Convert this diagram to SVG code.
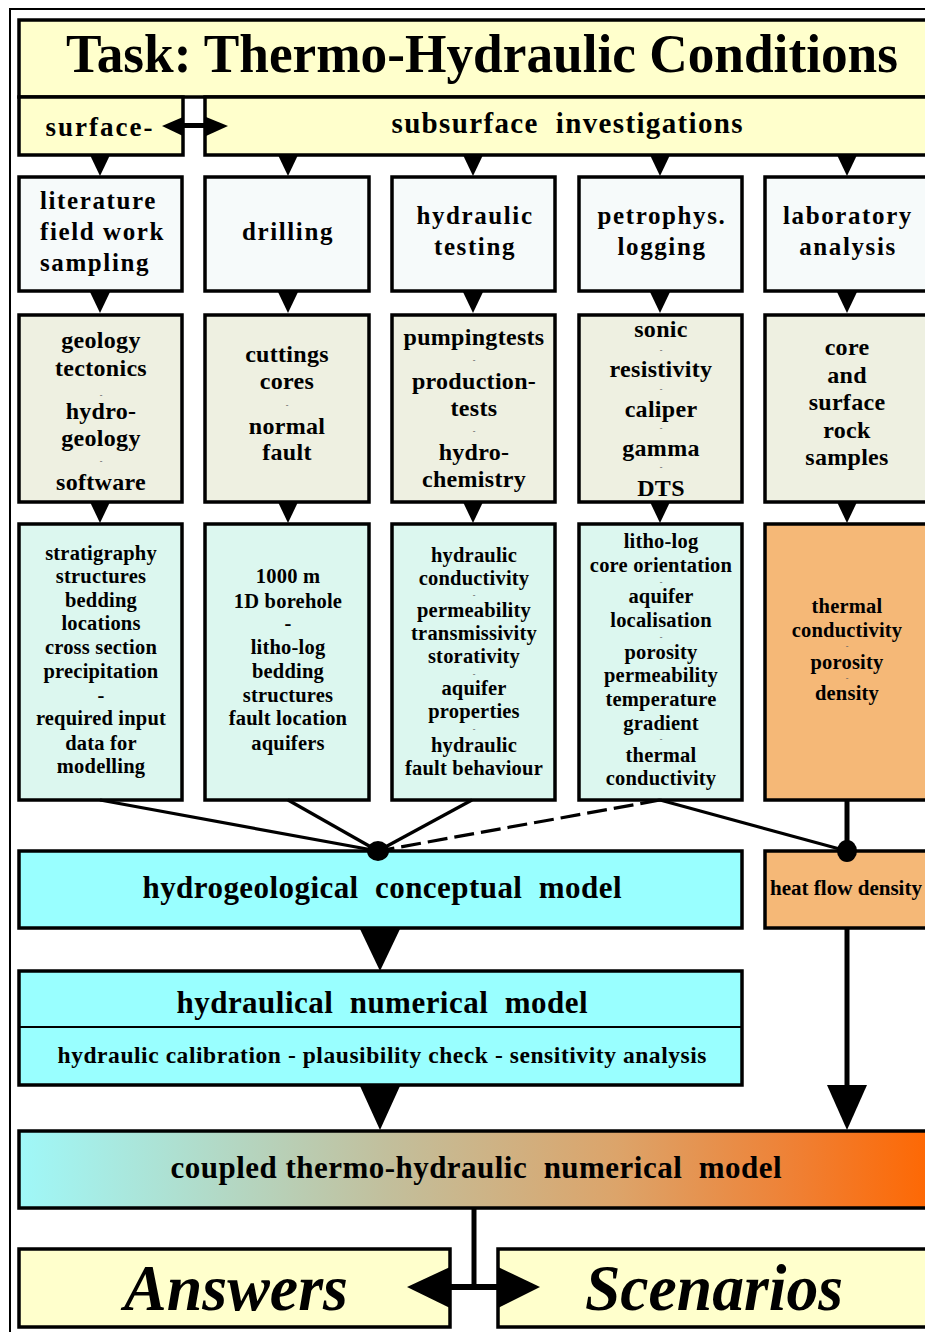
<svg xmlns="http://www.w3.org/2000/svg" width="925" height="1332" viewBox="0 0 925 1332">
<style>
text{font-family:"Liberation Serif","Times New Roman",serif;font-weight:bold;fill:#000;text-anchor:middle}
.box{stroke:#000;stroke-width:3.5}
.yel{fill:#ffffcc}
.r1{fill:#f6fafa}
.r2{fill:#eef0e1}
.r3{fill:#dcf7ef}
.org{fill:#f5b877}
.cy{fill:#99ffff}
.t1{font-size:25px;letter-spacing:1.6px}
.t2{font-size:24px;letter-spacing:0.3px}
.t3{font-size:20.5px;letter-spacing:0.2px}
.sd{font-size:8px;fill:#666}
.ln{stroke:#000;stroke-width:3.2;fill:none}
.big{font-size:31px}
.it{font-style:italic;font-size:66px}
</style>
<defs>
<path id="tri" d="M-10,0 L10,0 L0,21 Z" fill="#000"/>
<linearGradient id="grad" x1="19" y1="0" x2="939" y2="0" gradientUnits="userSpaceOnUse">
<stop offset="0" stop-color="#9ff8f8"/>
<stop offset="0.4" stop-color="#c2bf9c"/>
<stop offset="0.65" stop-color="#dca46a"/>
<stop offset="0.85" stop-color="#f07f32"/>
<stop offset="1" stop-color="#ff6600"/>
</linearGradient>
</defs>
<rect width="925" height="1332" fill="#fff"/>
<path d="M10,1340 V9 H940" fill="none" stroke="#000" stroke-width="2"/>

<g id="title">
<rect class="box yel" x="19" y="20" width="920" height="77"/>
<text x="482" y="72" font-size="55" textLength="832" lengthAdjust="spacingAndGlyphs">Task: Thermo-Hydraulic Conditions</text>
</g>
<g id="surface">
<rect class="box yel" x="19" y="97" width="164" height="58"/>
<text x="100" y="136" font-size="27" letter-spacing="2">surface-</text>
</g>
<g id="subsurface">
<rect class="box yel" x="205" y="97" width="734" height="58"/>
<text x="567" y="133" font-size="29" xml:space="preserve" textLength="351">subsurface  investigations</text>
</g>

<g id="literature">
<rect class="box r1" x="19" y="177" width="163" height="114"/>
<text class="t1" x="40" y="209" style="text-anchor:start">literature</text>
<text class="t1" x="40" y="240" style="text-anchor:start">field work</text>
<text class="t1" x="40" y="271" style="text-anchor:start">sampling</text>
</g>
<g id="drilling">
<rect class="box r1" x="205" y="177" width="164" height="114"/>
<text class="t1" x="288" y="240">drilling</text>
</g>
<g id="hydraulic-testing">
<rect class="box r1" x="392" y="177" width="163" height="114"/>
<text class="t1" x="475" y="224">hydraulic</text>
<text class="t1" x="475" y="255">testing</text>
</g>
<g id="petrophys-logging">
<rect class="box r1" x="579" y="177" width="163" height="114"/>
<text class="t1" x="662" y="224">petrophys.</text>
<text class="t1" x="662" y="255">logging</text>
</g>
<g id="laboratory-analysis">
<rect class="box r1" x="765" y="177" width="175" height="114"/>
<text class="t1" x="848" y="224">laboratory</text>
<text class="t1" x="848" y="255">analysis</text>
</g>

<g id="geology">
<rect class="box r2" x="19" y="315" width="163" height="187"/>
<text class="t2" x="101" y="348">geology</text>
<text class="t2" x="101" y="376">tectonics</text>
<text class="sd" x="101" y="398">-</text>
<text class="t2" x="101" y="419">hydro-</text>
<text class="t2" x="101" y="446">geology</text>
<text class="sd" x="101" y="464">-</text>
<text class="t2" x="101" y="490">software</text>
</g>
<g id="cuttings">
<rect class="box r2" x="205" y="315" width="164" height="187"/>
<text class="t2" x="287" y="362">cuttings</text>
<text class="t2" x="287" y="389">cores</text>
<text class="sd" x="287" y="408">-</text>
<text class="t2" x="287" y="434">normal</text>
<text class="t2" x="287" y="460">fault</text>
</g>
<g id="pumpingtests">
<rect class="box r2" x="392" y="315" width="163" height="187"/>
<text class="t2" x="474" y="345">pumpingtests</text>
<text class="sd" x="474" y="363">-</text>
<text class="t2" x="474" y="389">production-</text>
<text class="t2" x="474" y="416">tests</text>
<text class="sd" x="474" y="434">-</text>
<text class="t2" x="474" y="460">hydro-</text>
<text class="t2" x="474" y="487">chemistry</text>
</g>
<g id="sonic">
<rect class="box r2" x="579" y="315" width="163" height="187"/>
<text class="t2" x="661" y="337">sonic</text>
<text class="sd" x="661" y="353">-</text>
<text class="t2" x="661" y="377">resistivity</text>
<text class="sd" x="661" y="392">-</text>
<text class="t2" x="661" y="417">caliper</text>
<text class="sd" x="661" y="431">-</text>
<text class="t2" x="661" y="456">gamma</text>
<text class="sd" x="661" y="470">-</text>
<text class="t2" x="661" y="496">DTS</text>
</g>
<g id="core-samples">
<rect class="box r2" x="765" y="315" width="175" height="187"/>
<text class="t2" x="847" y="355">core</text>
<text class="t2" x="847" y="383">and</text>
<text class="t2" x="847" y="410">surface</text>
<text class="t2" x="847" y="438">rock</text>
<text class="t2" x="847" y="465">samples</text>
</g>

<g id="stratigraphy">
<rect class="box r3" x="19" y="524" width="163" height="276"/>
<text class="t3" x="101" y="560">stratigraphy</text>
<text class="t3" x="101" y="583">structures</text>
<text class="t3" x="101" y="607">bedding</text>
<text class="t3" x="101" y="630">locations</text>
<text class="t3" x="101" y="654">cross section</text>
<text class="t3" x="101" y="678">precipitation</text>
<text class="t3" x="101" y="702">-</text>
<text class="t3" x="101" y="725">required input</text>
<text class="t3" x="101" y="750">data for</text>
<text class="t3" x="101" y="773">modelling</text>
</g>
<g id="borehole">
<rect class="box r3" x="205" y="524" width="164" height="276"/>
<text class="t3" x="288" y="583">1000 m</text>
<text class="t3" x="288" y="608">1D borehole</text>
<text class="t3" x="288" y="630">-</text>
<text class="t3" x="288" y="654">litho-log</text>
<text class="t3" x="288" y="678">bedding</text>
<text class="t3" x="288" y="702">structures</text>
<text class="t3" x="288" y="725">fault location</text>
<text class="t3" x="288" y="750">aquifers</text>
</g>
<g id="hydraulic-properties">
<rect class="box r3" x="392" y="524" width="163" height="276"/>
<text class="t3" x="474" y="562">hydraulic</text>
<text class="t3" x="474" y="585">conductivity</text>
<text class="sd" x="474" y="598">-</text>
<text class="t3" x="474" y="617">permeability</text>
<text class="t3" x="474" y="640">transmissivity</text>
<text class="t3" x="474" y="663">storativity</text>
<text class="sd" x="474" y="677">-</text>
<text class="t3" x="474" y="695">aquifer</text>
<text class="t3" x="474" y="718">properties</text>
<text class="sd" x="474" y="732">-</text>
<text class="t3" x="474" y="752">hydraulic</text>
<text class="t3" x="474" y="775">fault behaviour</text>
</g>
<g id="logging-results">
<rect class="box r3" x="579" y="524" width="163" height="276"/>
<text class="t3" x="661" y="548">litho-log</text>
<text class="t3" x="661" y="572">core orientation</text>
<text class="sd" x="661" y="585">-</text>
<text class="t3" x="661" y="603">aquifer</text>
<text class="t3" x="661" y="627">localisation</text>
<text class="sd" x="661" y="640">-</text>
<text class="t3" x="661" y="659">porosity</text>
<text class="t3" x="661" y="682">permeability</text>
<text class="t3" x="661" y="706">temperature</text>
<text class="t3" x="661" y="730">gradient</text>
<text class="sd" x="661" y="742">-</text>
<text class="t3" x="661" y="762">thermal</text>
<text class="t3" x="661" y="785">conductivity</text>
</g>
<g id="thermal-properties">
<rect class="box org" x="765" y="524" width="175" height="276"/>
<text class="t3" x="847" y="613">thermal</text>
<text class="t3" x="847" y="637">conductivity</text>
<text class="sd" x="847" y="649">-</text>
<text class="t3" x="847" y="669">porosity</text>
<text class="sd" x="847" y="681">-</text>
<text class="t3" x="847" y="700">density</text>
</g>

<g id="conceptual-model">
<rect class="box cy" x="19" y="851" width="723" height="77"/>
<text class="big" x="382" y="898" xml:space="preserve" textLength="479">hydrogeological  conceptual  model</text>
</g>
<g id="heat-flow">
<rect class="box org" x="765" y="851" width="175" height="77"/>
<text x="846" y="895" font-size="20" textLength="152" lengthAdjust="spacingAndGlyphs">heat flow density</text>
</g>
<g id="numerical-model">
<rect class="box cy" x="19" y="971" width="723" height="114"/>
<line x1="19" y1="1027" x2="742" y2="1027" stroke="#000" stroke-width="2"/>
<text class="big" x="382" y="1013" xml:space="preserve" textLength="411">hydraulical  numerical  model</text>
<text x="382" y="1063" font-size="23.5" textLength="649">hydraulic calibration - plausibility check - sensitivity analysis</text>
</g>
<g id="coupled-model">
<rect class="box" x="19" y="1131" width="920" height="77" fill="url(#grad)"/>
<text class="big" x="476" y="1178" xml:space="preserve" textLength="611">coupled thermo-hydraulic  numerical  model</text>
</g>
<g id="answers">
<rect class="box yel" x="19" y="1249" width="431" height="78"/>
<text class="it" x="236" y="1310" textLength="224" lengthAdjust="spacingAndGlyphs">Answers</text>
</g>
<g id="scenarios">
<rect class="box yel" x="498" y="1249" width="440" height="78"/>
<text class="it" x="714" y="1310" textLength="258" lengthAdjust="spacingAndGlyphs">Scenarios</text>
</g>

<g id="connectors">
<rect x="172" y="123" width="44" height="5" fill="#000"/>
<polygon points="162,126 183,117 183,136" fill="#000"/>
<polygon points="228,126 206,117 206,136" fill="#000"/>
<use href="#tri" x="100" y="155"/>
<use href="#tri" x="288" y="155"/>
<use href="#tri" x="473" y="155"/>
<use href="#tri" x="660" y="155"/>
<use href="#tri" x="847" y="155"/>
<use href="#tri" x="100" y="292"/>
<use href="#tri" x="288" y="292"/>
<use href="#tri" x="473" y="292"/>
<use href="#tri" x="660" y="292"/>
<use href="#tri" x="847" y="292"/>
<use href="#tri" x="100" y="502"/>
<use href="#tri" x="288" y="502"/>
<use href="#tri" x="473" y="502"/>
<use href="#tri" x="660" y="502"/>
<use href="#tri" x="847" y="502"/>
<line class="ln" x1="100" y1="800" x2="378" y2="851"/>
<line class="ln" x1="288" y1="800" x2="378" y2="851"/>
<line class="ln" x1="472" y1="800" x2="378" y2="851"/>
<line class="ln" x1="660" y1="800" x2="378" y2="851" stroke-dasharray="20,7"/>
<line class="ln" x1="660" y1="800" x2="847" y2="851"/>
<line x1="847" y1="800" x2="847" y2="851" stroke="#000" stroke-width="5"/>
<ellipse cx="378" cy="851" rx="11" ry="10" fill="#000"/>
<ellipse cx="847" cy="851" rx="10" ry="11" fill="#000"/>
<polygon points="360,929 400,929 380,971" fill="#000"/>
<polygon points="360,1086 400,1086 380,1130" fill="#000"/>
<line x1="847" y1="928" x2="847" y2="1090" stroke="#000" stroke-width="5"/>
<polygon points="827,1085 867,1085 847,1130" fill="#000"/>
<line x1="474" y1="1208" x2="474" y2="1290" stroke="#000" stroke-width="5"/>
<rect x="446" y="1284" width="56" height="6" fill="#000"/>
<polygon points="407,1287 450,1267 450,1308" fill="#000"/>
<polygon points="540,1287 498,1267 498,1308" fill="#000"/>
</g>
</svg>
